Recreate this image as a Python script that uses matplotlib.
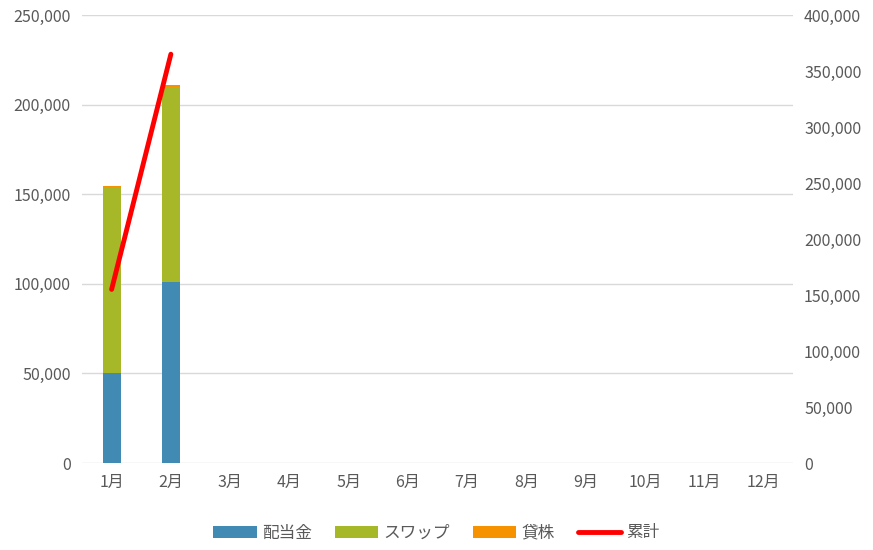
import matplotlib
matplotlib.use("Agg")
import matplotlib.pyplot as plt
from matplotlib.ticker import FuncFormatter
import numpy as np

plt.rcParams['font.family'] = ['Noto Sans CJK JP', 'DejaVu Sans']

months = ["1月","2月","3月","4月","5月","6月","7月","8月","9月","10月","11月","12月"]
dividend = [50000, 101200]
swap = [103800, 108800]
lending = [900, 700]
cumulative = [155000, 365000]

fig = plt.figure(figsize=(8.73, 5.5), dpi=100)
ax = fig.add_axes([82/873, 1-463/550, (793-82)/873, 448/550])
x = np.arange(len(months))
n = len(dividend)
w = 0.3
ax.bar(x[:n], dividend, w, color='#418AB3', label='配当金', zorder=3)
ax.bar(x[:n], swap, w, bottom=dividend, color='#A6B727', label='スワップ', zorder=3)
bot2 = [a+b for a, b in zip(dividend, swap)]
ax.bar(x[:n], lending, w, bottom=bot2, color='#F69200', label='貸株', zorder=3)
ax.set_ylim(0, 250000)
ax.set_yticks(range(0, 250001, 50000))
ax.set_xlim(-0.5, 11.5)
ax.set_xticks(x)
ax.set_xticklabels(months)
fmt = FuncFormatter(lambda v, p: f"{int(v):,}")
ax.yaxis.set_major_formatter(fmt)
ax.grid(axis='y', color='#D9D9D9', lw=1, zorder=0)
for s in ax.spines.values():
    s.set_visible(False)
ax.tick_params(length=0, labelsize=11.5, colors='#595959', pad=8)

ax2 = ax.twinx()
ax2.plot(x[:n], cumulative, color='#FF0000', lw=3.5, label='累計', solid_capstyle='round', zorder=4)
ax2.set_ylim(0, 400000)
ax2.set_yticks(range(0, 400001, 50000))
ax2.yaxis.set_major_formatter(fmt)
for s in ax2.spines.values():
    s.set_visible(False)
ax2.tick_params(length=0, labelsize=11.5, colors='#595959', pad=8)

h1, l1 = ax.get_legend_handles_labels()
h2, l2 = ax2.get_legend_handles_labels()
fig.legend(h1+h2, l1+l2, loc='center', bbox_to_anchor=(0.5, 1-533/550), ncol=4,
           frameon=False, fontsize=12, labelcolor='#595959', handlelength=2.6,
           handletextpad=0.3, columnspacing=1.4)
fig.savefig("out.png", dpi=100)
